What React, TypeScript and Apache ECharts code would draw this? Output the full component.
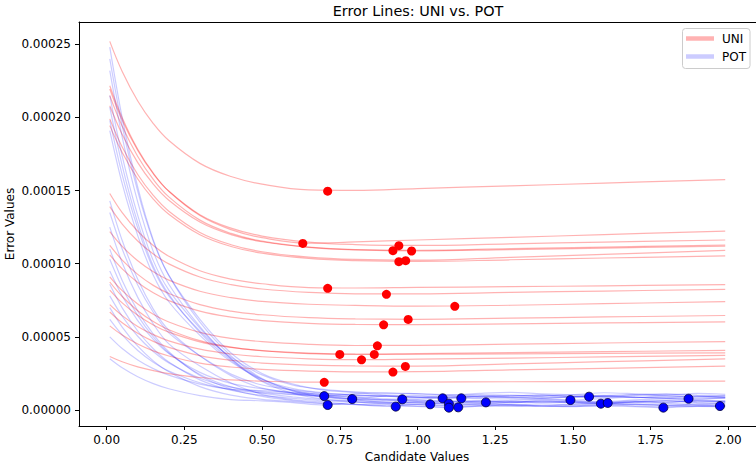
import React, { useEffect, useRef } from "react";
import * as echarts from "echarts";

// grid of candidate values used for the UNI curves
const uniX = [0.01, 0.05, 0.1, 0.15, 0.2, 0.3, 0.4, 0.5, 0.65, 0.8, 1.0, 1.3, 1.6, 1.99];
// UNI error curves (units of 1e-6)
const uni01 = [252.0, 231.4, 211.2, 195.8, 184.2, 168.6, 159.6, 154.4, 150.5, 150.2, 151.4, 153.2, 155.1, 157.5];
const uni02 = [221.7, 199.8, 178.2, 161.9, 149.5, 132.9, 123.3, 117.8, 114.0, 114.9, 116.2, 118.0, 119.9, 122.3];
const uni03 = [219.4, 198.1, 177.4, 161.5, 149.6, 133.5, 124.3, 118.9, 114.8, 113.1, 112.5, 113.6, 114.8, 116.2];
const uni04 = [214.9, 193.9, 173.3, 157.6, 145.7, 129.8, 120.7, 115.4, 111.3, 109.6, 109.2, 110.3, 111.4, 112.8];
const uni05 = [208.0, 188.4, 169.1, 154.4, 143.4, 128.5, 119.9, 115.0, 111.2, 109.5, 108.8, 109.7, 110.7, 112.0];
const uni06 = [199.0, 179.8, 161.0, 146.7, 135.9, 121.4, 113.0, 108.2, 104.5, 102.9, 102.4, 104.4, 106.4, 109.1];
const uni07 = [194.4, 176.0, 157.9, 144.2, 133.8, 119.8, 111.8, 107.2, 103.6, 102.1, 101.6, 102.7, 103.9, 105.3];
const uni08 = [148.0, 134.9, 122.2, 112.4, 105.1, 95.2, 89.5, 86.3, 83.7, 83.4, 83.8, 84.3, 84.9, 85.7];
const uni09 = [139.0, 127.1, 115.5, 106.6, 99.9, 90.9, 85.7, 82.7, 80.4, 79.4, 79.4, 80.4, 81.3, 82.5];
const uni10 = [122.0, 111.9, 102.0, 94.5, 88.8, 81.2, 76.8, 74.2, 72.3, 71.5, 71.0, 71.6, 72.7, 74.1];
const uni11 = [112.5, 102.5, 92.7, 85.2, 79.6, 72.0, 67.6, 65.1, 63.1, 62.3, 62.0, 62.8, 63.6, 64.6];
const uni12 = [106.0, 96.5, 87.2, 80.1, 74.8, 67.6, 63.5, 61.1, 59.2, 58.5, 58.4, 58.9, 59.5, 60.2];
const uni13 = [91.0, 81.6, 72.5, 65.5, 60.2, 53.1, 49.0, 46.7, 44.9, 44.1, 44.2, 45.0, 45.8, 46.8];
const uni14 = [87.5, 77.6, 67.9, 60.5, 54.9, 47.4, 43.0, 40.5, 38.6, 38.1, 38.5, 39.2, 39.9, 40.7];
const uni15 = [82.0, 73.2, 64.7, 58.1, 53.2, 46.6, 42.8, 40.6, 38.9, 38.2, 38.1, 38.4, 38.7, 39.1];
const uni16 = [72.0, 64.5, 57.1, 51.5, 47.3, 41.6, 38.3, 36.4, 35.0, 34.4, 34.8, 35.5, 36.3, 37.3];
const uni17 = [67.0, 59.6, 52.4, 46.9, 42.8, 37.2, 34.0, 32.1, 30.7, 30.1, 30.0, 31.5, 33.0, 35.0];
const uni18 = [57.5, 51.2, 45.1, 40.4, 36.9, 32.1, 29.4, 27.8, 26.6, 26.1, 26.2, 27.4, 28.5, 30.0];
const uni19 = [36.6, 33.0, 29.5, 26.9, 24.9, 22.2, 20.6, 19.7, 19.0, 19.0, 19.1, 19.3, 19.5, 19.8];
const uniCurves = [uni01, uni02, uni03, uni04, uni05, uni06, uni07, uni08, uni09, uni10, uni11, uni12, uni13, uni14, uni15, uni16, uni17, uni18, uni19];

// grid of candidate values used for the POT curves
const potX = [0.01, 0.05, 0.1, 0.15, 0.2, 0.3, 0.4, 0.5, 0.6, 0.7, 0.8, 0.9, 1.0, 1.1, 1.2, 1.3, 1.4, 1.5, 1.6, 1.7, 1.8, 1.9, 1.99];
// POT error curves (units of 1e-6)
const pot01 = [50.0, 42.0, 34.2, 28.3, 23.8, 17.7, 14.2, 13.2, 11.7, 9.5, 11.2, 11.8, 11.1, 10.3, 11.4, 12.1, 11.0, 10.5, 11.8, 11.1, 10.2, 11.3, 10.7];
const pot02 = [35.0, 28.8, 22.7, 18.0, 14.5, 9.8, 7.1, 6.3, 5.1, 3.4, 5.3, 4.5, 5.5, 4.6, 4.0, 5.2, 5.8, 4.7, 4.2, 5.3, 4.5, 4.0, 4.9];
const pot03 = [62.0, 51.3, 40.7, 32.7, 26.7, 18.6, 13.9, 11.8, 10.5, 9.1, 7.5, 9.7, 8.8, 9.9, 9.1, 8.4, 9.5, 10.3, 9.2, 8.5, 9.7, 8.9, 8.3];
const pot04 = [70.0, 56.7, 43.6, 33.6, 26.1, 16.0, 10.2, 7.3, 5.7, 4.3, 3.8, 2.4, 3.9, 3.2, 4.2, 3.5, 2.9, 3.9, 4.7, 3.7, 3.1, 4.0, 3.3];
const pot05 = [78.0, 64.1, 50.4, 40.0, 32.2, 21.7, 15.6, 12.6, 10.8, 9.8, 8.8, 7.6, 7.4, 8.8, 9.6, 8.5, 8.0, 9.2, 10.0, 8.8, 8.2, 9.3, 8.6];
const pot06 = [86.0, 69.8, 54.0, 41.9, 32.8, 20.6, 13.5, 10.0, 8.0, 6.2, 5.7, 4.9, 4.0, 5.2, 5.8, 4.9, 6.1, 5.3, 4.6, 5.5, 6.4, 5.1, 4.7];
const pot07 = [95.0, 77.9, 61.1, 48.3, 38.6, 25.7, 18.2, 14.6, 11.9, 10.8, 9.7, 9.6, 8.8, 8.0, 9.4, 10.1, 9.2, 8.6, 9.8, 10.6, 9.5, 8.9, 9.9];
const pot08 = [103.0, 83.6, 64.5, 50.0, 39.0, 24.3, 15.8, 11.5, 8.9, 6.9, 6.5, 5.6, 5.2, 4.3, 6.0, 5.3, 6.6, 5.8, 5.1, 6.3, 5.5, 6.7, 5.9];
const pot09 = [110.0, 88.6, 67.7, 51.8, 39.8, 23.6, 14.3, 9.3, 6.4, 4.5, 3.7, 2.9, 2.4, 1.6, 2.6, 3.2, 2.4, 2.9, 3.6, 2.7, 2.2, 3.0, 2.5];
const pot10 = [125.0, 100.7, 77.0, 58.8, 45.2, 30.0, 18.5, 10.7, 7.0, 5.4, 3.9, 3.4, 2.7, 2.0, 2.8, 3.5, 2.8, 2.3, 3.3, 3.9, 3.0, 2.4, 3.1];
const pot11 = [135.0, 110.0, 85.5, 66.8, 52.7, 37.0, 24.5, 17.1, 13.7, 11.3, 10.3, 9.5, 8.9, 8.2, 8.4, 9.5, 10.2, 9.3, 8.7, 9.8, 10.7, 9.6, 9.0];
const pot12 = [143.0, 115.9, 89.3, 69.0, 54.5, 37.0, 23.5, 14.9, 11.4, 8.9, 7.5, 6.9, 6.2, 5.8, 5.2, 6.4, 7.2, 6.3, 5.8, 6.9, 7.6, 6.5, 6.0];
const pot13 = [191.0, 154.7, 119.2, 92.1, 74.0, 51.0, 33.0, 21.0, 14.6, 11.7, 10.1, 9.4, 8.4, 8.7, 8.0, 7.5, 7.8, 6.8, 7.9, 8.7, 8.0, 7.4, 8.3];
const pot14 = [198.0, 160.8, 124.3, 96.6, 78.0, 54.0, 36.0, 24.0, 16.9, 14.1, 12.4, 11.4, 11.2, 10.3, 10.6, 9.8, 10.2, 9.3, 9.2, 10.5, 11.1, 10.2, 9.7];
const pot15 = [207.0, 167.1, 127.9, 98.2, 79.0, 53.0, 34.0, 20.0, 12.9, 9.8, 7.5, 6.8, 6.0, 6.1, 5.3, 5.7, 5.0, 5.3, 4.3, 5.6, 5.1, 6.0, 5.3];
const pot16 = [215.0, 173.6, 133.0, 102.1, 82.0, 56.0, 35.0, 21.0, 13.5, 10.3, 8.6, 7.0, 6.9, 6.0, 6.6, 5.9, 5.4, 5.9, 4.8, 5.7, 6.4, 5.5, 6.0];
const pot17 = [232.0, 186.6, 142.1, 108.3, 86.0, 57.0, 35.0, 19.5, 11.4, 7.4, 5.5, 4.0, 3.6, 2.8, 3.0, 2.5, 2.9, 2.5, 2.6, 2.3, 1.6, 2.5, 2.2];
const pot18 = [240.0, 194.2, 149.4, 115.3, 92.0, 62.0, 39.0, 25.0, 17.7, 13.6, 11.9, 10.2, 10.0, 9.0, 9.5, 8.9, 8.4, 9.1, 9.5, 8.7, 8.3, 7.7, 8.2];
const pot19 = [248.0, 199.7, 152.3, 116.3, 92.0, 60.0, 37.0, 21.5, 13.1, 8.8, 6.9, 5.2, 4.9, 3.9, 4.2, 3.7, 4.1, 3.5, 3.7, 4.2, 3.5, 3.2, 2.7];
const potCurves = [pot01, pot02, pot03, pot04, pot05, pot06, pot07, pot08, pot09, pot10, pot11, pot12, pot13, pot14, pot15, pot16, pot17, pot18, pot19];

// minimum points (units of 1e-6 for y)
const uniMinX = [0.711, 0.631, 0.94, 0.921, 0.981, 0.962, 0.94, 0.711, 0.9, 1.12, 0.97, 0.891, 0.871, 0.75, 0.861, 0.82, 0.961, 0.921, 0.7];
const uniMinY = [149.6, 113.9, 112.3, 108.9, 108.7, 102.1, 101.4, 83.2, 79.1, 70.9, 61.9, 58.2, 43.9, 38.0, 38.0, 34.3, 29.8, 25.9, 18.9];
const potMinX = [0.7, 0.711, 0.79, 0.93, 0.951, 1.041, 1.081, 1.101, 1.101, 1.131, 1.141, 1.22, 1.492, 1.552, 1.59, 1.612, 1.791, 1.872, 1.973];
const potMinY = [9.5, 3.4, 7.5, 2.3, 7.3, 3.9, 8.0, 4.3, 1.6, 1.8, 8.0, 5.2, 6.8, 9.1, 4.3, 4.8, 1.6, 7.7, 2.7];

// tick labels
const xTicks = [0, 0.25, 0.5, 0.75, 1.0, 1.25, 1.5, 1.75, 2.0];
const yTicks = [0, 0.00005, 0.0001, 0.00015, 0.0002, 0.00025];

const MICRO = 1e-6;
const FONT = "DejaVu Sans";

export default function App() {
  const ref = useRef<HTMLDivElement>(null);
  useEffect(() => {
    if (!ref.current) return;
    const chart = echarts.init(ref.current, undefined, { renderer: "svg" });
    const series: any[] = [];
    for (let i = 0; i < uniCurves.length; i++) {
      series.push({
        type: "line",
        data: uniX.map((x, j) => [x, uniCurves[i][j] * MICRO]),
        smooth: 0.4,
        symbol: "none",
        silent: true,
        lineStyle: { color: "rgba(255,0,0,0.3)", width: 1.2 },
      });
      series.push({
        type: "line",
        data: potX.map((x, j) => [x, potCurves[i][j] * MICRO]),
        smooth: 0.3,
        symbol: "none",
        silent: true,
        lineStyle: { color: "rgba(0,0,255,0.2)", width: 1.2 },
      });
    }
    series.push({
      type: "scatter",
      data: uniMinX.map((x, j) => [x, uniMinY[j] * MICRO]),
      symbolSize: 9,
      itemStyle: { color: "#ff0000", opacity: 1 },
      z: 5,
    });
    series.push({
      type: "scatter",
      data: potMinX.map((x, j) => [x, potMinY[j] * MICRO]),
      symbolSize: 9,
      itemStyle: { color: "#0000ff", borderColor: "#000033", borderWidth: 0.8, opacity: 1 },
      z: 5,
    });

    const labelStyle = { color: "#000", fontFamily: FONT, fontSize: 12 };
    chart.setOption({
      animation: false,
      grid: { left: 79, right: 0, top: 22, bottom: 40, containLabel: false },
      xAxis: [
        {
          type: "value",
          min: -0.089,
          max: 2.089,
          splitLine: { show: false },
          axisLine: { show: true, onZero: false, lineStyle: { color: "#000", width: 1 } },
          axisTick: { show: true, length: 4, lineStyle: { color: "#000" }, customValues: xTicks },
          axisLabel: { ...labelStyle, margin: 8, customValues: xTicks, formatter: (v: number) => v.toFixed(2) },
        },
        {
          type: "value",
          position: "top",
          min: -0.089,
          max: 2.089,
          splitLine: { show: false },
          axisLine: { show: true, onZero: false, lineStyle: { color: "#000", width: 1 } },
          axisTick: { show: false },
          axisLabel: { show: false },
        },
      ],
      yAxis: {
        type: "value",
        min: -0.00001094,
        max: 0.00026524,
        splitLine: { show: false },
        axisLine: { show: true, onZero: false, lineStyle: { color: "#000", width: 1 } },
        axisTick: { show: true, length: 4, lineStyle: { color: "#000" }, customValues: yTicks },
        axisLabel: { ...labelStyle, margin: 8, customValues: yTicks, formatter: (v: number) => v.toFixed(5) },
      },
      series,
      graphic: [
        {
          type: "text",
          x: 418,
          y: 11,
          z: 100,
          style: { text: "Error Lines: UNI vs. POT", fontFamily: FONT, fontSize: 14.4, fill: "#000", align: "center", verticalAlign: "middle" },
        },
        {
          type: "text",
          x: 417,
          y: 457,
          z: 100,
          style: { text: "Candidate Values", fontFamily: FONT, fontSize: 12, fill: "#000", align: "center", verticalAlign: "middle" },
        },
        {
          type: "text",
          x: 10,
          y: 224,
          rotation: Math.PI / 2,
          z: 100,
          style: { text: "Error Values", fontFamily: FONT, fontSize: 12, fill: "#000", align: "center", verticalAlign: "middle" },
        },
        {
          type: "group",
          z: 100,
          children: [
            {
              type: "rect",
              shape: { x: 682.5, y: 28.5, width: 67.5, height: 40, r: 3 },
              style: { fill: "rgba(255,255,255,0.8)", stroke: "#cccccc", lineWidth: 1 },
            },
            {
              type: "line",
              shape: { x1: 686, y1: 38.5, x2: 714, y2: 38.5 },
              style: { stroke: "rgba(255,0,0,0.3)", lineWidth: 4.5 },
            },
            {
              type: "text",
              x: 722,
              y: 38.5,
              style: { text: "UNI", fontFamily: FONT, fontSize: 12, fill: "#000", align: "left", verticalAlign: "middle" },
            },
            {
              type: "line",
              shape: { x1: 686, y1: 56.5, x2: 714, y2: 56.5 },
              style: { stroke: "rgba(0,0,255,0.2)", lineWidth: 4.5 },
            },
            {
              type: "text",
              x: 722,
              y: 56.5,
              style: { text: "POT", fontFamily: FONT, fontSize: 12, fill: "#000", align: "left", verticalAlign: "middle" },
            },
          ],
        },
      ],
    });
    return () => chart.dispose();
  }, []);
  return <div ref={ref} style={{ position: "absolute", left: 0, top: 0, width: 756, height: 466, background: "#fff" }} />;
}
